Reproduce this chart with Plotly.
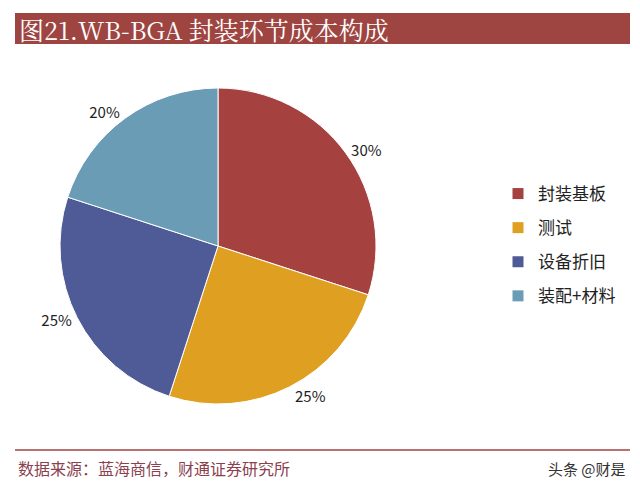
import plotly.graph_objects as go

labels = ["封装基板", "测试", "设备折旧", "装配+材料"]
values = [30, 25, 25, 20]
colors = ["#A5423F", "#DFA021", "#4F5B97", "#6A9CB6"]

W, H = 640, 493
O = 8  # page body offset
def px(x): return (x - O) / W
def py(y): return 1 - (y - O) / H

fig = go.Figure(go.Pie(
    labels=labels, values=values, sort=False, direction="clockwise", rotation=0,
    marker=dict(colors=colors, line=dict(color="white", width=1)),
    textinfo="percent", textposition="outside", texttemplate="%{percent:.0%}",
    textfont=dict(size=15, color="#222", family="Noto Sans CJK SC"),
    domain=dict(x=[px(60), px(376)], y=[py(404), py(88)]),
    showlegend=False,
))
for lab, col in zip(labels, colors):
    fig.add_trace(go.Scatter(x=[None], y=[None], mode="markers", name=lab, legendgroup=lab,
                             marker=dict(symbol="square", size=11, color=col)))
fig.update_xaxes(visible=False)
fig.update_yaxes(visible=False)
fig.update_layout(
    width=W, height=H, margin=dict(l=0, r=0, t=0, b=0),
    paper_bgcolor="white", plot_bgcolor="white",
    legend=dict(x=px(498), y=py(176), xanchor="left", yanchor="top",
                font=dict(size=17, color="#222", family="Noto Sans CJK SC"),
                tracegroupgap=9, itemwidth=30),
    shapes=[
        dict(type="rect", xref="paper", yref="paper", x0=px(15), x1=px(630), y0=py(44), y1=py(13),
             fillcolor="#9E4542", line=dict(width=0)),
        dict(type="line", xref="paper", yref="paper", x0=px(15), x1=px(630), y0=py(450), y1=py(450),
             line=dict(color="#A5423F", width=1.5)),
    ],
    annotations=[
        dict(text="图21.WB-BGA 封装环节成本构成", xref="paper", yref="paper", x=px(17), y=py(29),
             xanchor="left", yanchor="middle", showarrow=False,
             font=dict(size=25, color="white", family="Noto Serif CJK SC, Liberation Serif, serif")),
        dict(text="数据来源：蓝海商信，财通证券研究所", xref="paper", yref="paper", x=px(16), y=py(468),
             xanchor="left", yanchor="middle", showarrow=False,
             font=dict(size=16, color="#8B3F4F", family="Noto Sans CJK SC")),
        dict(text="头条 @财是", xref="paper", yref="paper", x=px(628), y=py(468),
             xanchor="right", yanchor="middle", showarrow=False,
             font=dict(size=15, color="#333", family="Noto Sans CJK SC")),
    ],
)
fig.write_html("out.html")
